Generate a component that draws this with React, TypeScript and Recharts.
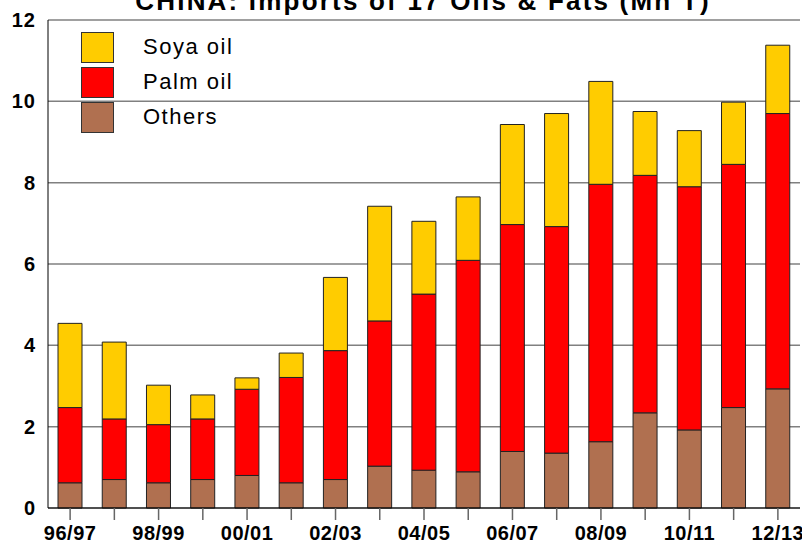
import { BarChart, Bar, XAxis, YAxis, CartesianGrid, Legend } from 'recharts';

const categories = [
  '96/97', '97/98', '98/99', '99/00', '00/01', '01/02', '02/03', '03/04', '04/05',
  '05/06', '06/07', '07/08', '08/09', '09/10', '10/11', '11/12', '12/13',
];
const others = [0.62, 0.7, 0.62, 0.7, 0.8, 0.62, 0.7, 1.03, 0.93, 0.89, 1.39, 1.35, 1.63, 2.34, 1.92, 2.47, 2.93];
const palmOil = [1.85, 1.49, 1.43, 1.49, 2.12, 2.59, 3.17, 3.57, 4.33, 5.2, 5.58, 5.57, 6.33, 5.84, 5.98, 5.98, 6.77];
const soyaOil = [2.07, 1.89, 0.97, 0.59, 0.28, 0.6, 1.8, 2.82, 1.79, 1.56, 2.46, 2.78, 2.53, 1.57, 1.38, 1.53, 1.68];
const yTicks = [0, 2, 4, 6, 8, 10, 12];

const FONT = '"Liberation Sans", Arial, sans-serif';

const legendItems = [
  { name: 'Soya oil', color: '#FFCC00' },
  { name: 'Palm oil', color: '#FF0000' },
  { name: 'Others', color: '#B07050' },
];

function LegendBox() {
  return (
    <div style={{ display: 'flex', flexDirection: 'column', gap: 5 }}>
      {legendItems.map((item) => (
        <div key={item.name} style={{ display: 'flex', alignItems: 'center', height: 30 }}>
          <div
            style={{
              width: 31,
              height: 29,
              background: item.color,
              border: '1px solid #333',
            }}
          />
          <span
            style={{
              marginLeft: 29,
              fontFamily: FONT,
              fontSize: 22,
              letterSpacing: 1.5,
              color: '#000',
            }}
          >
            {item.name}
          </span>
        </div>
      ))}
    </div>
  );
}

export default function App() {
  const data = categories.map((c, i) => ({
    name: c,
    others: others[i],
    palm: palmOil[i],
    soya: soyaOil[i],
  }));

  return (
    <div style={{ position: 'absolute', left: 0, top: 0, width: 802, height: 554, background: '#fff', overflow: 'hidden' }}>
      <div
        style={{
          position: 'absolute',
          left: 0,
          width: 846,
          top: -14,
          textAlign: 'center',
          fontFamily: FONT,
          fontWeight: 'bold',
          fontSize: 26,
          letterSpacing: 2.2,
          lineHeight: '30px',
          color: '#000',
          zIndex: 2,
        }}
      >
        CHINA: Imports of 17 Oils &amp; Fats (Mn T)
      </div>
      <BarChart
        width={802}
        height={554}
        data={data}
        margin={{ top: 20, right: 2, left: 0, bottom: 0 }}
        barSize={24}
      >
        <CartesianGrid horizontal vertical={false} stroke="#808080" strokeWidth={1.5} />
        <XAxis
          dataKey="name"
          interval={0}
          height={46}
          axisLine={{ stroke: '#000' }}
          tickLine={{ stroke: '#666', strokeWidth: 1.5 }}
          tickSize={12}
          tickMargin={6}
          tickFormatter={(v: string, i: number) => (i % 2 === 0 ? v : '')}
          tick={{ fill: '#000', fontFamily: FONT, fontWeight: 'bold', fontSize: 20, letterSpacing: 0.5 }}
        />
        <YAxis
          domain={[0, 12]}
          ticks={yTicks}
          width={48}
          axisLine={{ stroke: '#000' }}
          tickLine={false}
          tickSize={0}
          tickMargin={12}
          tick={{ fill: '#000', fontFamily: FONT, fontWeight: 'bold', fontSize: 20, letterSpacing: 1 }}
        />
        <Legend
          layout="vertical"
          verticalAlign="middle"
          align="center"
          content={() => <LegendBox />}
          wrapperStyle={{ left: 81, top: 32, width: 'auto' }}
        />
        <Bar dataKey="others" stackId="a" fill="#B07050" stroke="#222" strokeWidth={1} isAnimationActive={false} />
        <Bar dataKey="palm" stackId="a" fill="#FF0000" stroke="#222" strokeWidth={1} isAnimationActive={false} />
        <Bar dataKey="soya" stackId="a" fill="#FFCC00" stroke="#222" strokeWidth={1} isAnimationActive={false} />
      </BarChart>
    </div>
  );
}
